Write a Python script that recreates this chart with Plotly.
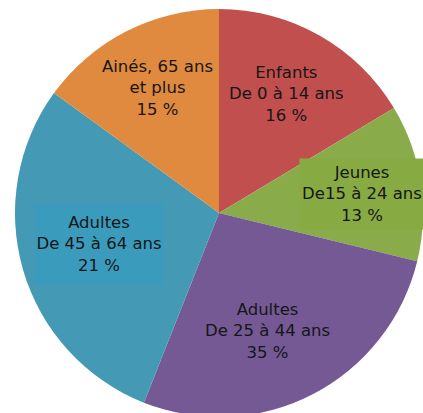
import plotly.graph_objects as go

# ---- data ----
categories = ["Enfants", "Jeunes", "Adultes 25-44", "Adultes 45-64", "Ainés"]
# slice sizes as drawn (angles measured on the picture)
drawn_shares = [16.4, 12.4, 27.2, 29.0, 15.0]
# label texts as printed on the chart
label_titles = ["Enfants", "Jeunes", "Adultes", "Adultes", "Ainés, 65 ans"]
label_ranges = ["De 0 à 14 ans", "De15 à 24 ans", "De 25 à 44 ans", "De 45 à 64 ans", "et plus"]
label_pcts = ["16 %", "13 %", "35 %", "21 %", "15 %"]

# ---- styles ----
W, H = 423, 417          # window is 423x413; the pie runs slightly past the bottom edge
colors = ["#c14f4e", "#8aab4a", "#745995", "#4499b5", "#e08a40"]
box_colors = [None, "#87aa42", None, "#3b9bbc", None]
# label centres in pixels (x, y of box centre) and box sizes
label_pos = [(286, 94), (362, 194), (267, 331), (99, 244), (157, 88)]
box_sizes = [None, (124, 70), None, (128, 80), None]

fig = go.Figure(go.Pie(
    labels=categories,
    values=drawn_shares,
    sort=False,
    direction="clockwise",
    rotation=0,
    marker=dict(colors=colors, line=dict(width=0)),
    textinfo="none",
    hoverinfo="label+percent",
    showlegend=False,
    domain=dict(x=[15 / W, 1.0], y=[0, 1 - 9 / H]),
))

annotations = []
for i in range(len(categories)):
    x, y = label_pos[i]
    ann = dict(
        x=x / W, y=1 - y / H, xref="paper", yref="paper",
        xanchor="center", yanchor="middle",
        text=f"{label_titles[i]}<br>{label_ranges[i]}<br>{label_pcts[i]}",
        showarrow=False,
        font=dict(family="DejaVu Sans, sans-serif", size=16.5, color="#161616"),
        align="center",
    )
    if box_colors[i]:
        ann["bgcolor"] = box_colors[i]
        ann["width"] = box_sizes[i][0]
        ann["height"] = box_sizes[i][1]
        ann["borderpad"] = 0
    annotations.append(ann)

fig.update_layout(
    width=W, height=H,
    margin=dict(l=0, r=0, t=0, b=0),
    paper_bgcolor="white",
    plot_bgcolor="white",
    annotations=annotations,
)

fig.write_html(
    "out.html",
    config={"displayModeBar": False},
    post_script="document.body.style.margin='0';document.body.style.overflow='hidden';",
)
